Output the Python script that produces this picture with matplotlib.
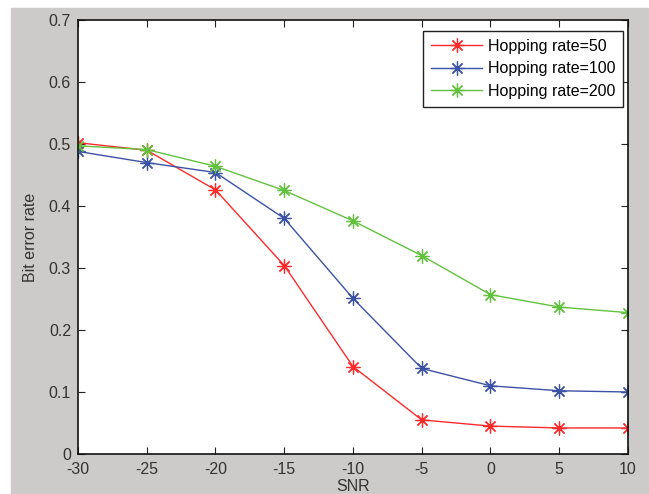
import matplotlib
matplotlib.use("Agg")
import matplotlib.pyplot as plt
from matplotlib.patches import Rectangle

# data
snr = [-30, -25, -20, -15, -10, -5, 0, 5, 10]
ber_50 = [0.502, 0.490, 0.426, 0.304, 0.141, 0.055, 0.045, 0.042, 0.042]
ber_100 = [0.488, 0.470, 0.454, 0.380, 0.251, 0.138, 0.110, 0.102, 0.100]
ber_200 = [0.497, 0.491, 0.464, 0.425, 0.376, 0.320, 0.257, 0.237, 0.228]
labels = ["Hopping rate=50", "Hopping rate=100", "Hopping rate=200"]
colors = ["#ff2a2a", "#3b52a6", "#62c23e"]

plt.rcParams["font.family"] = ["Liberation Sans", "DejaVu Sans"]
plt.rcParams["font.size"] = 11.5
plt.rcParams["axes.unicode_minus"] = False

fig = plt.figure(figsize=(6.49, 4.94), dpi=100)
# grey MATLAB-like figure background, with a thin white strip top/left
fig.patches.append(Rectangle((11 / 649, 0), 1, (494 - 8) / 494,
                             transform=fig.transFigure, color="#cdcbc9",
                             zorder=-10))
ax = fig.add_axes([78 / 649, 40 / 494, 550 / 649, 434 / 494])

# MATLAB style '*' marker: eight-armed asterisk
for y, lab, c in zip([ber_50, ber_100, ber_200], labels, colors):
    ax.plot(snr, y, color=c, lw=1, marker=(8, 2, 0), ms=10, mew=0.9,
            label=lab)

ax.set_xlim(-30, 10)
ax.set_ylim(0, 0.7)
ax.set_xticks(range(-30, 11, 5))
ax.set_yticks([0, 0.1, 0.2, 0.3, 0.4, 0.5, 0.6, 0.7])
ax.set_yticklabels(["0", "0.1", "0.2", "0.3", "0.4", "0.5", "0.6", "0.7"])
ax.tick_params(direction="in", top=True, right=True, length=5,
               colors="#222222", labelcolor="#333333")
ax.tick_params(axis="x", pad=6)
ax.tick_params(axis="y", pad=5)
for s in ax.spines.values():
    s.set_linewidth(1.2)
    s.set_color("#111111")

ax.set_xlabel("SNR", labelpad=1, color="#333333")
ax.set_ylabel("Bit error rate", labelpad=8, color="#333333")

leg = ax.legend(loc="upper right", bbox_to_anchor=(0.9915, 0.9755),
                fancybox=False, framealpha=1, edgecolor="#222222",
                borderpad=0.5, handlelength=3.2, labelspacing=0.48,
                handletextpad=0.35, borderaxespad=0)
leg.get_frame().set_linewidth(1.0)

fig.savefig("out.png", dpi=100)
